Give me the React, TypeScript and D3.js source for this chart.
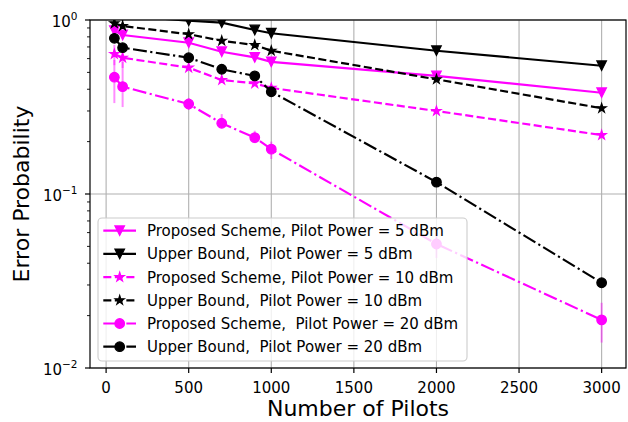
import React from "react";
import * as d3 from "d3";

const pilots = [50, 100, 500, 700, 900, 1000, 2000, 3000];
const prop5 = [0.868, 0.82, 0.74, 0.657, 0.61, 0.575, 0.477, 0.382];
const ub5 = [1.08, 1.06, 0.99, 0.965, 0.876, 0.839, 0.666, 0.546];
const prop10 = [0.638, 0.607, 0.532, 0.452, 0.432, 0.407, 0.3, 0.218];
const ub10 = [0.957, 0.924, 0.828, 0.76, 0.718, 0.666, 0.456, 0.311];
const prop20 = [0.469, 0.414, 0.329, 0.255, 0.211, 0.181, 0.0516, 0.0189];
const ub20 = [0.785, 0.693, 0.607, 0.521, 0.477, 0.387, 0.117, 0.0309];
const prop10Lo = [0.55, 0.53, 0.52, 0.44, 0.42, 0.4, 0.29, 0.212];
const prop10Hi = [0.72, 0.69, 0.545, 0.465, 0.445, 0.415, 0.31, 0.224];
const prop20Lo = [0.333, 0.316, 0.304, 0.239, 0.196, 0.159, 0.0429, 0.014];
const prop20Hi = [0.589, 0.574, 0.356, 0.288, 0.231, 0.2, 0.0597, 0.0237];

const xTicks = [0, 500, 1000, 1500, 2000, 2500, 3000];
const yTicks = [1, 0.1, 0.01];
const yTickExp = ["0", "\u22121", "\u22122"];
const legendLabels = [
  "Proposed Scheme, Pilot Power = 5 dBm",
  "Upper Bound,  Pilot Power = 5 dBm",
  "Proposed Scheme, Pilot Power = 10 dBm",
  "Upper Bound,  Pilot Power = 10 dBm",
  "Proposed Scheme,  Pilot Power = 20 dBm",
  "Upper Bound,  Pilot Power = 20 dBm",
];

const MAG = "#ff00ff";
const BLK = "#000000";
const PT = 1.45;
const LW = 1.5 * PT;
const DASH = [3.7 * 1.5 * PT, 1.6 * 1.5 * PT].join(",");
const DASHDOT = [6.4 * 1.5 * PT, 1.6 * 1.5 * PT, 1 * 1.5 * PT, 1.6 * 1.5 * PT].join(",");
const MS = 9.6;

type Marker = "tri" | "star" | "circle";

function markerPath(kind: Marker, m: number): string {
  const r = m / 2;
  if (kind === "tri") {
    return `M0,${r}L${-r},${-r}L${r},${-r}Z`;
  }
  if (kind === "star") {
    const inner = r * 0.381966;
    let p = "";
    for (let i = 0; i < 10; i++) {
      const ang = -Math.PI / 2 + (i * Math.PI) / 5;
      const rr = i % 2 === 0 ? r : inner;
      p += (i === 0 ? "M" : "L") + (rr * Math.cos(ang)).toFixed(3) + "," + (rr * Math.sin(ang)).toFixed(3);
    }
    return p + "Z";
  }
  return d3.symbol(d3.symbolCircle, Math.PI * r * r)() as string;
}

const series = [
  { values: prop5, color: MAG, dash: "none", marker: "tri" as Marker },
  { values: ub5, color: BLK, dash: "none", marker: "tri" as Marker },
  { values: prop10, color: MAG, dash: DASH, marker: "star" as Marker, lo: prop10Lo, hi: prop10Hi },
  { values: ub10, color: BLK, dash: DASH, marker: "star" as Marker },
  { values: prop20, color: MAG, dash: DASHDOT, marker: "circle" as Marker, lo: prop20Lo, hi: prop20Hi },
  { values: ub20, color: BLK, dash: DASHDOT, marker: "circle" as Marker },
];

export default function App() {
  const W = 628, H = 422;
  const left = 90, right = 626, top = 20, bottom = 368;
  const x = d3.scaleLinear().domain([-97.5, 3147.5]).range([left, right]);
  const y = d3.scaleLog().domain([0.01, 1]).range([bottom, top]);
  const font = "DejaVu Sans, sans-serif";

  const minor: number[] = [];
  [0.01, 0.1].forEach((d) => {
    for (let k = 2; k <= 9; k++) minor.push(d * k);
  });

  const lineGen = d3
    .line<number>()
    .x((_, i) => x(pilots[i]))
    .y((v) => y(v));

  const legX = 98, legY = 218, legW = 369, legH = 143;
  const rowY0 = 230.7, rowStep = 23.2;

  return (
    <svg width={W} height={H} style={{ position: "absolute", left: 0, top: 0 }} fontFamily={font}>
      <rect x={0} y={0} width={W} height={H} fill="#fff" />
      <defs>
        <clipPath id="plotclip">
          <rect x={left} y={top} width={right - left} height={bottom - top} />
        </clipPath>
      </defs>
      {/* grid */}
      {xTicks.map((t) => (
        <line key={"gx" + t} x1={x(t)} x2={x(t)} y1={top} y2={bottom} stroke="#b0b0b0" strokeWidth={1.1} />
      ))}
      {yTicks.map((t) => (
        <line key={"gy" + t} x1={left} x2={right} y1={y(t)} y2={y(t)} stroke="#b0b0b0" strokeWidth={1.1} />
      ))}
      {/* series */}
      <g clipPath="url(#plotclip)">
        {series.map((s, si) => (
          <g key={"s" + si}>
            {s.lo &&
              s.values.map((_, i) => (
                <line
                  key={"eb" + i}
                  x1={x(pilots[i])}
                  x2={x(pilots[i])}
                  y1={y(s.lo![i])}
                  y2={y(s.hi![i])}
                  stroke={s.color}
                  strokeOpacity={0.45}
                  strokeWidth={2}
                />
              ))}
            <path
              d={lineGen(s.values) as string}
              fill="none"
              stroke={s.color}
              strokeWidth={LW}
              strokeDasharray={s.dash}
            />
            {s.values.map((v, i) => (
              <path
                key={"m" + i}
                d={markerPath(s.marker, MS)}
                transform={`translate(${x(pilots[i])},${y(v)})`}
                fill={s.color}
                stroke={s.color}
                strokeWidth={1.2}
              />
            ))}
          </g>
        ))}
      </g>
      {/* spines */}
      <rect x={left} y={top} width={right - left} height={bottom - top} fill="none" stroke="#000" strokeWidth={1.2} />
      {/* x ticks */}
      {xTicks.map((t) => (
        <g key={"xt" + t}>
          <line x1={x(t)} x2={x(t)} y1={bottom} y2={bottom + 5} stroke="#000" strokeWidth={1.2} />
          <text x={x(t)} y={392.7} fontSize={15} textAnchor="middle" fill="#000">
            {t}
          </text>
        </g>
      ))}
      {/* y ticks */}
      {yTicks.map((t, i) => (
        <g key={"yt" + t}>
          <line x1={left - 5} x2={left} y1={y(t)} y2={y(t)} stroke="#000" strokeWidth={1.2} />
          <text x={77.5} y={y(t) + 6.7} fontSize={15} textAnchor="end" fill="#000">
            10
            <tspan fontSize={10.5} dy={-7}>
              {yTickExp[i]}
            </tspan>
          </text>
        </g>
      ))}
      {minor.map((t) => (
        <line key={"mt" + t} x1={left - 3} x2={left} y1={y(t)} y2={y(t)} stroke="#000" strokeWidth={0.9} />
      ))}
      {/* axis labels */}
      <text x={(left + right) / 2} y={416} fontSize={22} textAnchor="middle" fill="#000">
        Number of Pilots
      </text>
      <text
        transform={`translate(${29},${(top + bottom) / 2}) rotate(-90)`}
        fontSize={22}
        textAnchor="middle"
        fill="#000"
      >
        Error Probability
      </text>
      {/* legend */}
      <rect x={legX} y={legY} width={legW} height={legH} rx={4} fill="#fff" fillOpacity={0.8} stroke="#cccccc" strokeWidth={1.1} />
      {series.map((s, i) => {
        const cy = rowY0 + i * rowStep;
        return (
          <g key={"lg" + i}>
            <line x1={103.3} x2={136} y1={cy} y2={cy} stroke={s.color} strokeWidth={LW} strokeDasharray={s.dash} />
            <path
              d={markerPath(s.marker, MS)}
              transform={`translate(${119.7},${cy})`}
              fill={s.color}
              stroke={s.color}
              strokeWidth={1.2}
            />
            <text x={147} y={cy + 5.4} fontSize={15} fill="#000" style={{ whiteSpace: "pre" }}>
              {legendLabels[i]}
            </text>
          </g>
        );
      })}
    </svg>
  );
}
